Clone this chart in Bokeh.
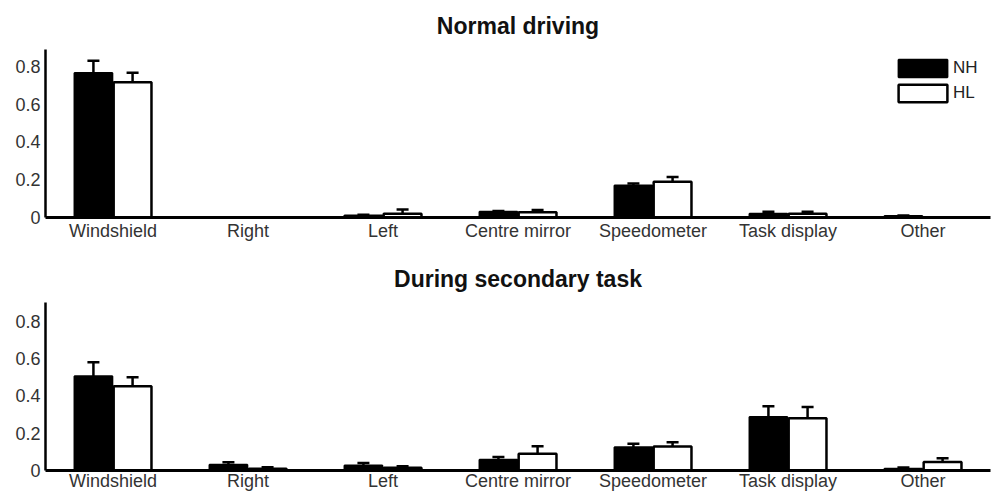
from bokeh.plotting import figure
from bokeh.layouts import column
from bokeh.models import (ColumnDataSource, FactorRange, Range1d, FixedTicker,
                          CustomJSTickFormatter, Whisker, TeeHead, Legend, LegendItem)
from bokeh.transform import dodge
from bokeh.embed import file_html
from bokeh.resources import INLINE

categories = ["Windshield", "Right", "Left", "Centre mirror", "Speedometer", "Task display", "Other"]
groups = ["NH", "HL"]
y_ticks = [0, 0.2, 0.4, 0.6, 0.8]

titles = ["Normal driving", "During secondary task"]

normal_nh = [0.765, 0.0, 0.010, 0.030, 0.170, 0.020, 0.008]
normal_nh_err = [0.065, 0.0, 0.005, 0.005, 0.010, 0.010, 0.002]
normal_hl = [0.717, 0.0, 0.020, 0.028, 0.190, 0.020, 0.0]
normal_hl_err = [0.050, 0.0, 0.022, 0.012, 0.024, 0.010, 0.0]

secondary_nh = [0.505, 0.031, 0.027, 0.057, 0.125, 0.286, 0.010]
secondary_nh_err = [0.075, 0.013, 0.013, 0.015, 0.018, 0.058, 0.006]
secondary_hl = [0.452, 0.010, 0.015, 0.090, 0.128, 0.280, 0.045]
secondary_hl_err = [0.048, 0.008, 0.008, 0.040, 0.024, 0.060, 0.020]

FONT = "Liberation Sans"
OFFSET = 0.145
BAR_W = 0.28


def make_panel(title, nh, nh_err, hl, hl_err, height, top, bottom, y_end, legend,
               title_standoff, label_standoff):
    src = ColumnDataSource(dict(
        cat=categories,
        nh=nh, hl=hl,
        nh_lo=[v - e for v, e in zip(nh, nh_err)],
        nh_hi=[v + e for v, e in zip(nh, nh_err)],
        hl_lo=[v - e for v, e in zip(hl, hl_err)],
        hl_hi=[v + e for v, e in zip(hl, hl_err)],
    ))
    p = figure(x_range=FactorRange(*categories), y_range=Range1d(0, y_end),
               width=993, height=height, output_backend="svg", toolbar_location=None,
               min_border_left=45, min_border_right=3, min_border_top=top,
               min_border_bottom=bottom, title=title)
    p.title.align = "center"
    p.title.text_font = FONT
    p.title.text_font_size = "23px"
    p.title.text_font_style = "bold"
    p.title.text_color = "#111111"
    p.title.standoff = title_standoff
    p.outline_line_color = None
    p.xgrid.grid_line_color = None
    p.ygrid.grid_line_color = None
    p.x_range.range_padding = 0

    r_nh = p.vbar(x=dodge("cat", -OFFSET, range=p.x_range), top="nh", width=BAR_W,
                  source=src, fill_color="black", line_color="black", line_width=2)
    r_hl = p.vbar(x=dodge("cat", OFFSET, range=p.x_range), top="hl", width=BAR_W,
                  source=src, fill_color="white", line_color="black", line_width=2.5)

    for off, lo, hi in ((-OFFSET, "nh_lo", "nh_hi"), (OFFSET, "hl_lo", "hl_hi")):
        w = Whisker(base=dodge("cat", off, range=p.x_range), lower=lo, upper=hi, source=src,
                    line_color="black", line_width=2.5,
                    upper_head=TeeHead(size=12, line_width=2.5, line_color="black"),
                    lower_head=TeeHead(size=12, line_width=2.5, line_color="black"))
        p.add_layout(w)

    xa = p.xaxis[0]
    xa.axis_line_width = 3
    xa.axis_line_color = "black"
    xa.major_tick_line_color = None
    xa.minor_tick_line_color = None
    xa.major_tick_out = 0
    xa.major_tick_in = 0
    xa.major_label_standoff = label_standoff
    xa.major_label_text_font = FONT
    xa.major_label_text_font_size = "18px"
    xa.major_label_text_line_height = 1.0
    xa.major_label_text_color = "#333333"

    ya = p.yaxis[0]
    ya.ticker = FixedTicker(ticks=y_ticks)
    ya.formatter = CustomJSTickFormatter(code="return tick == 0 ? '0' : tick.toFixed(1);")
    ya.axis_line_width = 2.5
    ya.axis_line_color = "black"
    ya.major_tick_line_color = None
    ya.minor_tick_line_color = None
    ya.major_tick_out = 0
    ya.major_tick_in = 0
    ya.major_label_standoff = 5
    ya.major_label_text_font = FONT
    ya.major_label_text_font_size = "18px"
    ya.major_label_text_color = "#333333"

    if legend:
        leg = Legend(items=[LegendItem(label=groups[0], renderers=[r_nh]),
                            LegendItem(label=groups[1], renderers=[r_hl])],
                     location=(847, 113), orientation="vertical",
                     glyph_width=61, glyph_height=22, label_height=22,
                     label_standoff=0, spacing=3, padding=0, margin=0,
                     border_line_color=None, background_fill_alpha=0,
                     label_text_font=FONT, label_text_font_size="17px",
                     label_text_color="#222222")
        p.add_layout(leg)
    return p


p1 = make_panel(titles[0], normal_nh, normal_nh_err, normal_hl, normal_hl_err,
                height=248, top=48, bottom=31, y_end=0.89, legend=True,
                title_standoff=21, label_standoff=3)
p2 = make_panel(titles[1], secondary_nh, secondary_nh_err, secondary_hl, secondary_hl_err,
                height=245, top=54, bottom=23, y_end=0.9, legend=False,
                title_standoff=22, label_standoff=0)

layout = column(p1, p2, spacing=0)
open("out.html", "w").write(file_html(layout, INLINE))
